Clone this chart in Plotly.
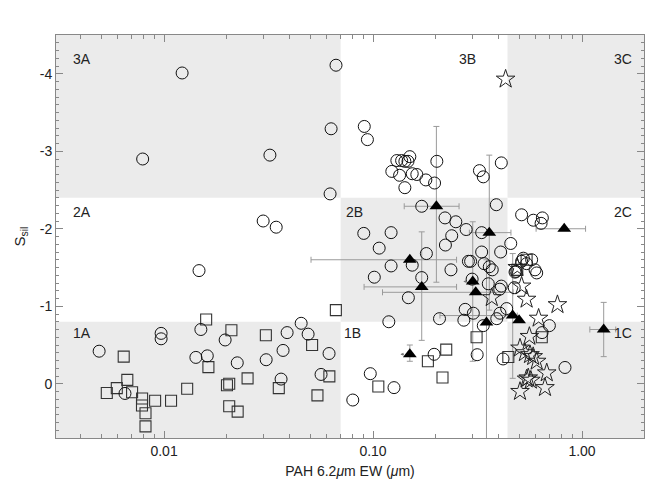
import math
import plotly.graph_objects as go

# ---------------- data ----------------
circ_x = [0.0122, 0.0079, 0.0321, 0.063, 0.0665, 0.0623, 0.0298, 0.0344, 0.0147,
          0.00489, 0.0065, 0.00968, 0.00968, 0.015, 0.0142, 0.0161, 0.0196, 0.0224, 0.0308,
          0.0371, 0.0388, 0.0363, 0.0453, 0.0489, 0.0564, 0.0616,
          0.0908, 0.094, 0.130, 0.137, 0.142, 0.147, 0.150, 0.202, 0.123, 0.134, 0.154, 0.162,
          0.179, 0.197, 0.142, 0.323, 0.337, 0.411,
          0.171, 0.389, 0.221, 0.249, 0.279, 0.0903, 0.122, 0.238, 0.222, 0.107, 0.180, 0.154,
          0.122, 0.236, 0.1014, 0.171, 0.1476, 0.286, 0.331, 0.331, 0.408, 0.293, 0.340, 0.360,
          0.372, 0.356, 0.411, 0.404, 0.298, 0.276, 0.302, 0.405, 0.436,
          0.456, 0.514, 0.585, 0.646, 0.637, 0.474, 0.478, 0.514, 0.543, 0.574, 0.596, 0.607,
          0.483, 0.524,
          0.119, 0.208, 0.272, 0.337, 0.391, 0.196, 0.097, 0.126, 0.080, 0.315, 0.419,
          0.698, 0.829, 0.644]
circ_y = [-4.01, -2.90, -2.95, -3.29, -4.11, -2.45, -2.10, -2.02, -1.46,
          -0.42, 0.125, -0.65, -0.58, -0.70, -0.34, -0.36, -0.565, -0.27, -0.31,
          -0.43, -0.66, -0.06, -0.78, -0.64, -0.12, -0.39,
          -3.32, -3.15, -2.88, -2.88, -2.87, -2.87, -2.93, -2.87, -2.74, -2.69, -2.71, -2.70,
          -2.63, -2.59, -2.53, -2.75, -2.67, -2.85,
          -2.29, -2.31, -2.14, -2.09, -1.99, -1.94, -1.95, -1.91, -1.79, -1.75, -1.68, -1.53,
          -1.52, -1.47, -1.375, -1.37, -1.11, -1.58, -1.95, -1.70, -1.70, -1.58, -1.55, -1.51,
          -1.47, -1.29, -1.26, -1.22, -1.35, -0.96, -0.91, -0.91, -0.97,
          -1.81, -2.18, -2.11, -2.14, -2.07, -1.24, -1.44, -1.58, -1.55, -1.60, -1.47, -1.43,
          -1.45, -1.62,
          -0.80, -0.84, -0.82, -0.75, -0.84, -0.38, -0.13, 0.05, 0.21, -0.375, -0.32,
          -0.75, -0.21, -0.66]

sq_x = [0.00641, 0.00667, 0.00532, 0.00594, 0.00703, 0.00785, 0.00784, 0.00815, 0.00815,
        0.00906, 0.0108, 0.0129, 0.0159, 0.0163, 0.0210, 0.0200, 0.0205, 0.0205, 0.0225,
        0.0251, 0.0307, 0.0354, 0.0511, 0.0542, 0.0618, 0.0664, 0.0326,
        0.183, 0.224, 0.215, 0.106, 0.313, 0.444, 0.642, 0.543, 0.49]
sq_y = [-0.35, -0.05, 0.12, 0.056, 0.11, 0.19, 0.28, 0.38, 0.55,
        0.22, 0.22, 0.065, -0.83, -0.215, -0.69, 0.02, 0.0, 0.29, 0.36,
        -0.07, -0.625, 0.056, -0.50, 0.15, -0.095, -0.95, 0.78,
        -0.29, -0.44, -0.08, 0.035, -0.60, -0.345, -0.60, -1.60, -1.47]

star_x = [0.431, 0.49, 0.514, 0.543, 0.370, 0.763, 0.62, 0.56, 0.505, 0.533, 0.564,
          0.584, 0.607, 0.678, 0.665, 0.553, 0.569, 0.543, 0.505]
star_y = [-3.93, -1.50, -1.26, -1.09, -1.11, -1.02, -0.845, -0.61, -0.46, -0.40, -0.375,
          -0.35, -0.29, -0.14, 0.05, -0.075, -0.045, -0.06, 0.10]

tri_x = [0.201, 0.360, 0.822, 0.150, 0.171, 0.300, 0.310, 0.349, 0.466, 0.500, 1.27, 0.150]
tri_y = [-2.29, -1.95, -2.00, -1.60, -1.25, -1.32, -1.18, -0.79, -0.88, -0.82, -0.70, -0.38]
tri_xlo = [0.141, 0.289, 0.603, 0.0505, 0.0906, None, 0.111, None, 0.209, None, 1.09, None]
tri_xhi = [0.258, 0.457, 1.04, 0.251, 0.251, None, 0.468, None, 0.49, None, 1.45, None]
tri_ylo = [-3.32, -2.95, None, None, -1.96, -2.09, None, -1.60, -1.68, None, -1.05, -0.50]
tri_yhi = [-1.31, -0.95, None, None, -0.56, -0.29, None, 0.90, -0.07, None, -0.35, -0.29]
tri_upper_limit = [False, False, False, False, False, True, False, False, False, False, False, True]

region_labels = ["3A", "3B", "3C", "2A", "2B", "2C", "1A", "1B", "1C"]
x_bounds = [0.07, 0.44]
y_bounds = [-2.4, -0.8]
x_ticks = [0.01, 0.1, 1.0]
x_ticktext = ["0.01", "0.10", "1.00"]
y_ticks = [-4, -3, -2, -1, 0]
y_ticktext = ["-4", "-3", "-2", "-1", "0"]

# ---------------- figure ----------------
XMIN, XMAX = 0.00304, 1.98
YTOP, YBOT = -4.5, 0.7
FONT = "Liberation Sans, Arial, Helvetica, sans-serif"
SHADE = "#ebebeb"
ERRC = "#9a9a9a"

fig = go.Figure()

for i in range(len(tri_x)):
    ex = None
    ey = None
    if tri_xlo[i] is not None:
        ex = dict(type="data", symmetric=False,
                  array=[tri_xhi[i] - tri_x[i]], arrayminus=[tri_x[i] - tri_xlo[i]],
                  color=ERRC, thickness=1, width=3)
    if tri_ylo[i] is not None:
        ey = dict(type="data", symmetric=False,
                  array=[tri_yhi[i] - tri_y[i]], arrayminus=[tri_y[i] - tri_ylo[i]],
                  color=ERRC, thickness=1, width=3)
    if ex is None and ey is None:
        continue
    fig.add_trace(go.Scatter(x=[tri_x[i]], y=[tri_y[i]], mode="markers",
                             marker=dict(size=1, color="rgba(0,0,0,0)"),
                             error_x=ex, error_y=ey, showlegend=False, hoverinfo="skip"))

fig.add_trace(go.Scatter(x=sq_x, y=sq_y, mode="markers", showlegend=False,
                         marker=dict(symbol="square-open", size=11, color="#333333",
                                     line=dict(width=1.1, color="#333333"))))
fig.add_trace(go.Scatter(x=circ_x, y=circ_y, mode="markers", showlegend=False,
                         marker=dict(symbol="circle-open", size=12, color="#111111",
                                     line=dict(width=1, color="#111111"))))
fig.add_trace(go.Scatter(x=star_x, y=star_y, mode="markers", showlegend=False,
                         marker=dict(symbol="star-open", size=14, color="#222222",
                                     line=dict(width=1, color="#222222"))))
fig.add_trace(go.Scatter(x=tri_x, y=tri_y, mode="markers", showlegend=False,
                         marker=dict(symbol="triangle-up", size=12, color="black",
                                     line=dict(width=0))))

# shaded regions in axis-domain fractions
lx0, lx1 = math.log10(XMIN), math.log10(XMAX)


def fx(v):
    return (math.log10(v) - lx0) / (lx1 - lx0)


def fy(v):
    return (YBOT - v) / (YBOT - YTOP)


bx0, bx1 = fx(x_bounds[0]), fx(x_bounds[1])
by0, by1 = fy(y_bounds[0]), fy(y_bounds[1])
rects = [
    (0, bx0, by0, 1),     # 3A
    (bx1, 1, by0, 1),     # 3C
    (bx0, bx1, by1, by0),  # 2B
    (0, bx0, 0, by1),     # 1A
    (bx1, 1, 0, by1),     # 1C
]
shapes = []
for (a, b, c, d) in rects:
    shapes.append(dict(type="rect", xref="x domain", yref="y domain", x0=a, x1=b, y0=c, y1=d,
                       fillcolor=SHADE, line=dict(width=0), layer="below"))

lab_pos = {
    "3A": (0.025, 0.94, "left"), "3B": (0.70, 0.94, "center"), "3C": (0.983, 0.94, "right"),
    "2A": (0.025, 0.562, "left"), "2B": (0.508, 0.562, "center"), "2C": (0.983, 0.562, "right"),
    "1A": (0.025, 0.26, "left"), "1B": (0.505, 0.26, "center"), "1C": (0.983, 0.26, "right"),
}
annotations = []
for lab in region_labels:
    px, py, al = lab_pos[lab]
    annotations.append(dict(xref="paper", yref="paper", x=px, y=py, text=lab,
                            showarrow=False, xanchor=al, yanchor="middle",
                            font=dict(size=14, color="#222222", family=FONT)))

# small upper-limit arrows pointing left of flagged triangles
for i in range(len(tri_x)):
    if tri_upper_limit[i]:
        annotations.append(dict(xref="x", yref="y", x=math.log10(tri_x[i]) - 0.045,
                                y=tri_y[i], text="", showarrow=True, ax=5, ay=0,
                                arrowhead=2, arrowsize=0.6, arrowwidth=1,
                                arrowcolor="#777777"))

minor_x = []
for dec in [0.001, 0.01, 0.1, 1.0]:
    for m in range(2, 10):
        v = dec * m
        if XMIN <= v <= XMAX:
            minor_x.append(v)

# note: page body has an 8px default margin, margins compensate for it
fig.update_layout(
    width=667, height=491,
    margin=dict(l=48, r=31, t=27, b=61),
    paper_bgcolor="white", plot_bgcolor="white",
    font=dict(family=FONT, size=14, color="#222222"),
    shapes=shapes, annotations=annotations,
    xaxis=dict(type="log", range=[lx0, lx1], showgrid=False, zeroline=False,
               automargin=False,
               tickmode="array", tickvals=x_ticks, ticktext=x_ticktext,
               ticks="inside", ticklen=7, tickcolor="#888888",
               showline=True, linecolor="#888888", linewidth=1, mirror="ticks",
               minor=dict(tickmode="array", tickvals=minor_x, ticks="inside",
                          ticklen=4, tickcolor="#888888", showgrid=False),
               title=dict(text="PAH 6.2<i>μ</i>m EW (<i>μ</i>m)", standoff=8,
                          font=dict(size=14)),
               tickfont=dict(size=14)),
    yaxis=dict(range=[YBOT, YTOP], showgrid=False, zeroline=False,
               automargin=False,
               tickmode="array", tickvals=y_ticks, ticktext=y_ticktext,
               ticks="inside", ticklen=7, tickcolor="#888888",
               showline=True, linecolor="#888888", linewidth=1, mirror="ticks",
               minor=dict(dtick=0.1, ticks="inside", ticklen=3,
                          tickcolor="#888888", showgrid=False),
               title=dict(text="S<sub>sil</sub>", standoff=10, font=dict(size=15)),
               tickfont=dict(size=14)),
)

fig.write_html("out.html")
